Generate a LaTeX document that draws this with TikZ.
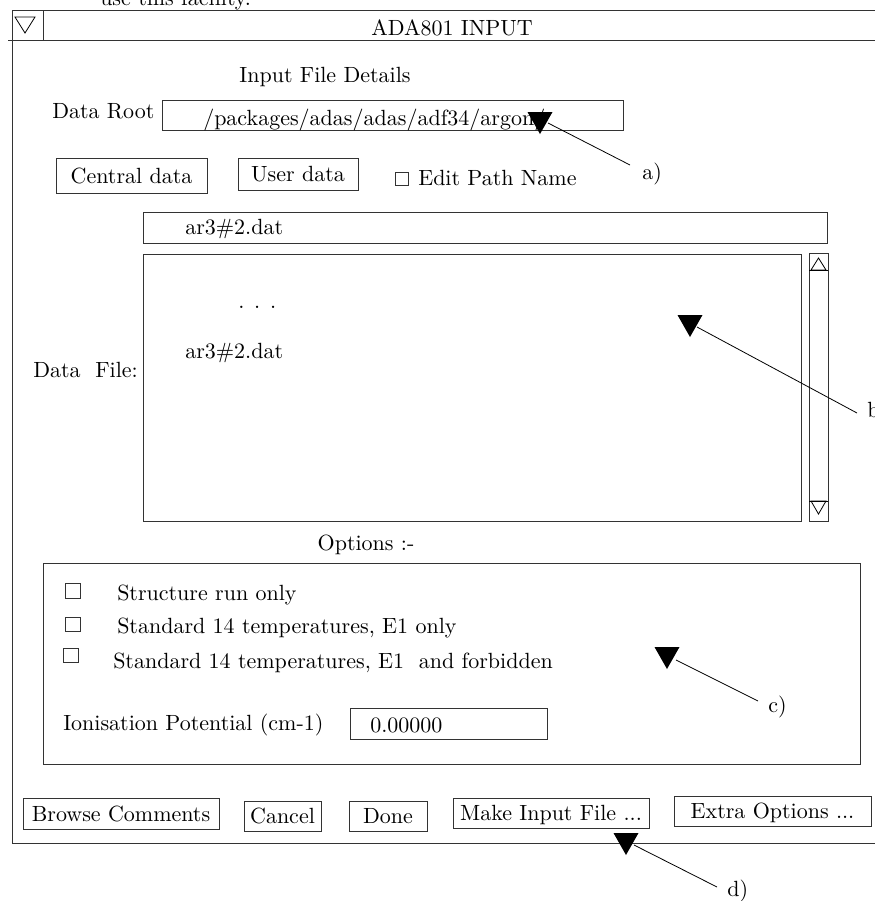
\documentclass[tikz,border=0pt]{standalone}
\usepackage{fontspec}
\setmainfont{lmroman10-regular.otf}
\usetikzlibrary{fit}
\newcommand\uifont{\fontsize{16.5}{19}\selectfont}
\begin{document}
\begin{tikzpicture}[x=0.75pt,y=-0.75pt,
  frame/.style={draw=black!80, line width=0.75pt},
  box/.style={draw=black!80, line width=0.75pt, inner sep=0pt},
  txt/.style={inner sep=0pt, font=\uifont, anchor=base west},
  ctxt/.style={inner sep=0pt, font=\uifont, anchor=base},
  btntxt/.style={inner sep=0pt, font=\uifont, text height=11.5pt, text depth=0pt},
  leader/.style={draw=black, line width=0.6pt}]
\useasboundingbox (0,0) rectangle (875,901);

% window frame
\draw[frame] (12,10.7) -- (880,10.7);
\draw[frame] (8,40.7) -- (880,40.7);
\draw[frame] (12,10.7) -- (12,843) -- (880,843);
\draw[frame] (43,10.7) -- (43,40.7);
\draw[line width=0.6pt] (15,17) -- (35,17) -- (25,33) -- cycle;

% header texts
\node[txt] (use) at (100,5) {use this facility.};
\node[ctxt] (title) at (452,35) {ADA801 INPUT};
\node[ctxt] (ifd) at (325,82) {Input File Details};

% data root
\node[txt] (droot) at (52,118) {Data Root};
\node[box, fit={(162,100) (623,130)}] (rootbox) {};
\node[txt] (path) at (203,125) {/packages/adas/adas/adf34/argon/};

% central / user data
\node[box, fit={(56,158) (207,193)}] (central) {};
\node[btntxt] at (central.center) {Central data};
\node[box, fit={(238,158) (358,190)}] (user) {};
\node[btntxt] at (user.center) {User data};
\node[box, fit={(395,172) (408,185)}] (cbedit) {};
\node[txt] (edit) at (418,185) {Edit Path Name};

% file name and list
\node[box, fit={(143,212) (827,243)}] (filebox) {};
\node[txt] (fname) at (185,234) {ar3\#2.dat};
\node[box, fit={(143,254) (801,521)}] (listbox) {};
\node[txt] (dots) at (238,308) {. . .};
\node[txt] (item) at (185,358) {ar3\#2.dat};
\node[txt] (dfile) at (33,377) {Data\ \ File:};

% scrollbar
\node[box, fit={(809,253) (828,521)}] (scroll) {};
\draw[line width=0.6pt] (818.5,258) -- (826,270) -- (811,270) -- cycle;
\draw[line width=0.6pt] (809,270) -- (828,270);
\draw[line width=0.6pt] (809,501) -- (828,501);
\draw[line width=0.6pt] (811,501) -- (826,501) -- (818.5,514) -- cycle;

% options
\node[ctxt] (opts) at (366,550) {Options :-};
\node[box, fit={(43,563) (860,764)}] (optbox) {};
\node[box, fit={(65,583) (80,598)}] (cb1) {};
\node[txt] (o1) at (117,600) {Structure run only};
\node[box, fit={(65,617) (80,631)}] (cb2) {};
\node[txt] (o2) at (117,633) {Standard 14 temperatures, E1 only};
\node[box, fit={(63,648) (78,662)}] (cb3) {};
\node[txt] (o3) at (113,668) {Standard 14 temperatures, E1\ \ and forbidden};
\node[txt] (ion) at (63,730) {Ionisation Potential (cm-1)};
\node[box, fit={(350,708) (547,739)}] (ionbox) {};
\node[txt] (ionval) at (370,732) {0.00000};

% bottom buttons
\node[box, fit={(23,798) (219,829)}] (browse) {};
\node[btntxt] at (browse.center) {Browse Comments};
\node[box, fit={(244,801) (321,831)}] (cancel) {};
\node[btntxt] at (cancel.center) {Cancel};
\node[box, fit={(349,801) (427,831)}] (done) {};
\node[btntxt] at (done.center) {Done};
\node[box, fit={(453,798) (649,828)}] (make) {};
\node[btntxt] at (make.center) {Make Input File ...};
\node[box, fit={(674,796) (871,826)}] (extra) {};
\node[btntxt] at (extra.center) {Extra Options ...};

% pointers
\coordinate (tipA) at (540,134);
\coordinate (tipB) at (690,337);
\coordinate (tipC) at (667,669);
\coordinate (tipD) at (626,855);
\foreach \t in {tipA,tipB,tipC,tipD}
  \fill[black] (\t) -- ++(-12.5,-22) -- ++(25,0) -- cycle;

\coordinate (sA) at (548,123);
\coordinate (eA) at (630,165);
\coordinate (sB) at (697,327);
\coordinate (eB) at (857,413);
\coordinate (sC) at (676,660);
\coordinate (eC) at (758,701);
\coordinate (sD) at (634,845);
\coordinate (eD) at (717,887);
\draw[leader] (sA) -- (eA);
\draw[leader] (sB) -- (eB);
\draw[leader] (sC) -- (eC);
\draw[leader] (sD) -- (eD);

\node[txt] (la) at (642,179) {a)};
\node[txt] (lb) at (867,417) {b)};
\node[txt] (lc) at (768,712) {c)};
\node[txt] (ld) at (727,896) {d)};
\end{tikzpicture}
\end{document}
